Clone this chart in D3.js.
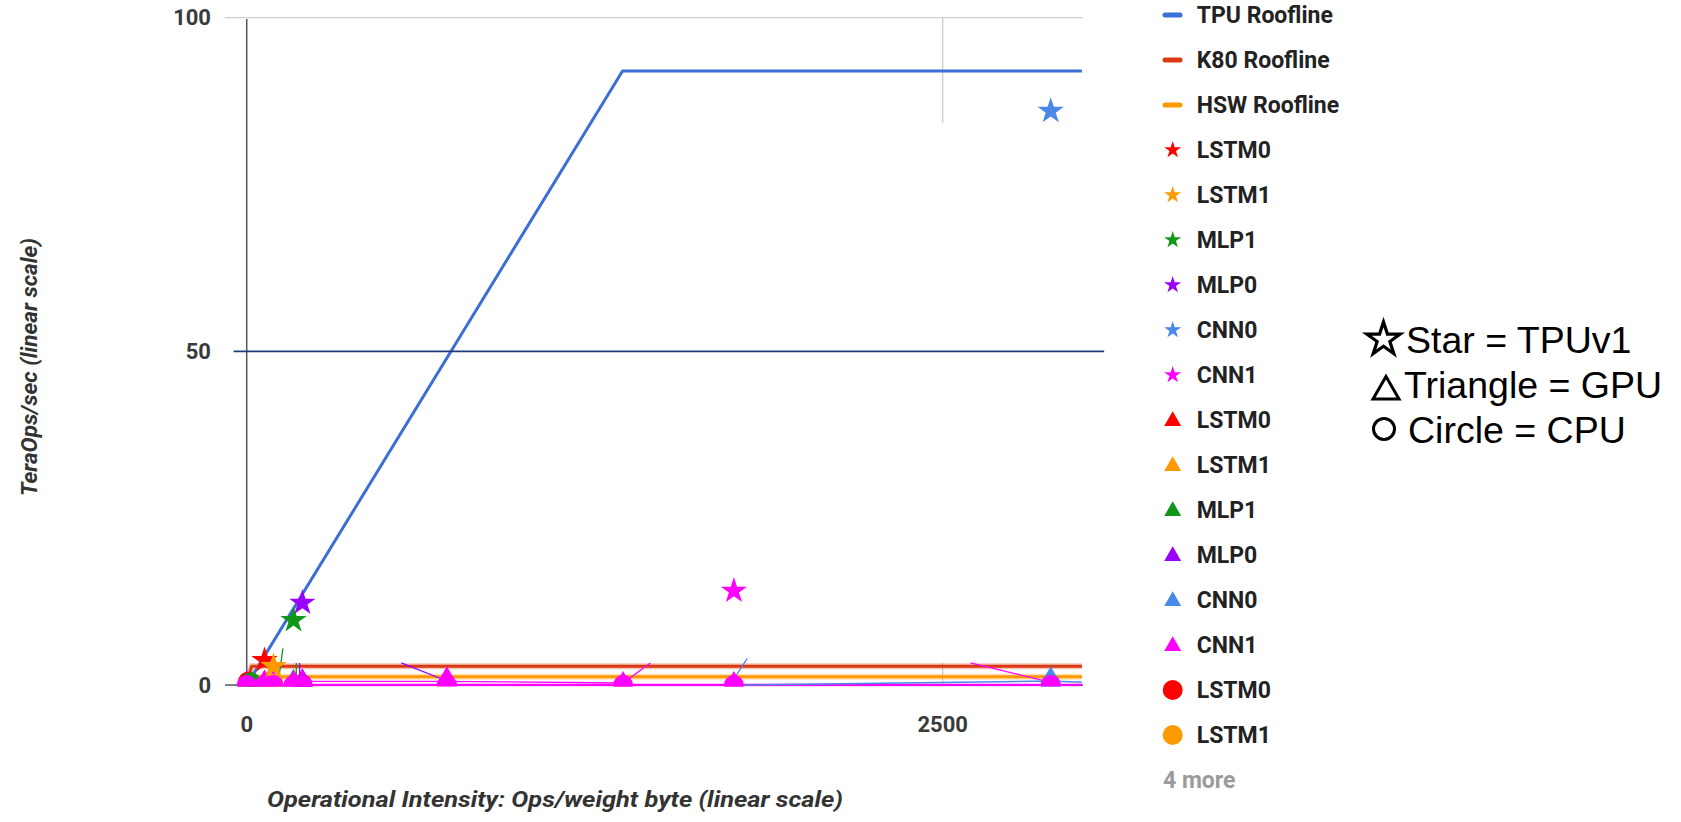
<!DOCTYPE html>
<html><head><meta charset="utf-8">
<script src="https://cdn.jsdelivr.net/npm/d3@7"></script>
<style>body{margin:0;background:#fff}svg{display:block}</style>
</head><body>
<svg id="c" width="1681" height="822"></svg>
<script>
// ---------------- data ----------------
const yTicks = [0, 50, 100];
const xTicks = [0, 2500];
const xDomain = [-78, 3004];
const yDomain = [0, 100];

const rooflineNames = ["TPU Roofline", "K80 Roofline", "HSW Roofline"];
const rooflineColors = ["#3a6fd8", "#dc3912", "#ff9900"];
const tpuRoof = [[0, 0], [1350, 92], [3000, 92]];
const k80Roof = [[0, 0], [17.5, 2.8], [3000, 2.8]];
const hswRoof = [[0, 0], [25, 1.25], [3000, 1.25]];

const apps = ["LSTM0", "LSTM1", "MLP1", "MLP0", "CNN0", "CNN1"];
const appColors = ["#ff0000", "#ff9900", "#109618", "#9900ff", "#4a89e8", "#ff00ff"];

// TPUv1 (stars): [ops/weight byte, TeraOps/sec]
const tpuStars = [[64, 3.7], [96, 2.8], [168, 9.7], [200, 12.3], [2888, 86.0], [1750, 14.1]];
// GPU K80 (triangles)
const gpuTriangles = [
  [[64, 0.4]],
  [[96, 0.3]],
  [[168, 0.5]],
  [[200, 0.6]],
  [[2888, 0.9]],
  [[0, 0.4], [64, 0.4], [96, 0.3], [168, 0.4], [200, 0.5], [719, 0.9], [1352, 0.2], [1750, 0.2]]
];
// CPU Haswell (circles)
const cpuCircles = [
  [[5, 0.5]],
  [[96, 0.2]],
  [[15, 0.4]],
  [[200, 0.1]],
  [[2888, 0.1]],
  [[0, 0], [64, 0], [96, 0], [168, 0], [200, 0], [719, 0], [1352, 0], [1750, 0], [2888, 0]]
];
// thin connecting line pieces visible near the baseline (series index, points)
const connectorSeries = [5, 5, 5, 5, 4, 4, 3, 3, 2, 2];
const connectorPoints = [
  [[0, 0], [3000, 0]],
  [[200, 0.55], [719, 0.55], [1352, 0.3]],
  [[1352, 0.3], [1450, 3.3]],
  [[2600, 3.3], [2888, 0.4]],
  [[1745, 0.6], [1798, 4.0]],
  [[1760, 0], [2888, 0.6], [3000, 0.4]],
  [[555, 3.3], [719, 0.6]],
  [[190, 0], [190, 3.3]],
  [[112, 0], [130, 5.5]],
  [[178, 0], [178, 3.3]]
];
const connectorWidths = [2.5, 1.3, 1.3, 1.3, 1.3, 1.5, 1.3, 1.3, 1.3, 1.3];

// visible pieces of the 2500 vertical gridline (y ranges)
const grid2500Pieces = [[84.2, 100], [0, 3.3]];
const fiftyLineExtent = [-47, 3080];

const legendMore = "4 more";
const keyLabels = ["Star = TPUv1", "Triangle = GPU", "Circle = CPU"];
const yTitle = "TeraOps/sec (linear scale)";
const xTitle = "Operational Intensity: Ops/weight byte (linear scale)";

// ---------------- drawing ----------------
const svg = d3.select("#c");
const x = d3.scaleLinear().domain(xDomain).range([225, 1083]);
const y = d3.scaleLinear().domain(yDomain).range([685, 17.7]);
const line = d3.line().x(d => x(d[0])).y(d => y(d[1]));

svg.append("defs").append("clipPath").attr("id", "plotclip")
  .append("rect").attr("x", 215).attr("y", 0).attr("width", 880).attr("height", 686.5);

// gridlines
svg.append("line").attr("x1", x(xDomain[0])).attr("x2", x(xDomain[1]))
  .attr("y1", y(100)).attr("y2", y(100)).attr("stroke", "#cfcfcf").attr("stroke-width", 1.3);
grid2500Pieces.forEach(p => {
  svg.append("line").attr("x1", x(2500)).attr("x2", x(2500))
    .attr("y1", y(p[0])).attr("y2", y(p[1])).attr("stroke", "#cccccc").attr("stroke-width", 1.3);
});
// baseline and axis
svg.append("line").attr("x1", x(xDomain[0])).attr("x2", x(xDomain[1]))
  .attr("y1", y(0)).attr("y2", y(0)).attr("stroke", "#555").attr("stroke-width", 1.5);
svg.append("line").attr("x1", x(0)).attr("x2", x(0))
  .attr("y1", y(99.8)).attr("y2", y(0)).attr("stroke", "#555").attr("stroke-width", 1.5);

// tick labels
svg.append("g").selectAll("text").data(yTicks).join("text")
  .attr("x", 211).attr("y", d => y(d)).attr("dy", "0.35em")
  .attr("text-anchor", "end")
  .style("font-family", "Roboto").style("font-weight", 700).style("font-size", "22px")
  .attr("fill", "#3a3a3a").text(d => d);
svg.append("g").selectAll("text").data(xTicks).join("text")
  .attr("x", d => x(d)).attr("y", 731.5)
  .attr("text-anchor", "middle")
  .style("font-family", "Roboto").style("font-weight", 700).style("font-size", "22px")
  .attr("fill", "#3a3a3a").text(d => d);

// axis titles
svg.append("text").attr("transform", "translate(29,367) rotate(-90)")
  .attr("text-anchor", "middle").attr("dy", "0.35em")
  .attr("textLength", 258).attr("lengthAdjust", "spacingAndGlyphs")
  .style("font-family", "Roboto").style("font-weight", 700).style("font-style", "italic")
  .style("font-size", "22px").attr("fill", "#333").text(yTitle);
svg.append("text").attr("x", 555).attr("y", 807)
  .attr("text-anchor", "middle")
  .attr("textLength", 576).attr("lengthAdjust", "spacingAndGlyphs")
  .style("font-family", "Roboto").style("font-weight", 700).style("font-style", "italic")
  .style("font-size", "22px").attr("fill", "#333").text(xTitle);

// rooflines
const plot = svg.append("g").attr("clip-path", "url(#plotclip)");
const roofs = [tpuRoof, k80Roof, hswRoof];
[k80Roof, hswRoof].forEach((r, i) => {
  plot.append("path").attr("d", line(r)).attr("fill", "none")
    .attr("stroke", rooflineColors[i + 1]).attr("stroke-opacity", 0.3).attr("stroke-width", 6);
});
roofs.forEach((r, i) => {
  plot.append("path").attr("d", line(r)).attr("fill", "none")
    .attr("stroke", rooflineColors[i]).attr("stroke-width", 3).attr("stroke-linejoin", "round");
});

// connectors
connectorPoints.forEach((pts, i) => {
  plot.append("path").attr("d", line(pts)).attr("fill", "none")
    .attr("stroke", appColors[connectorSeries[i]]).attr("stroke-width", connectorWidths[i]);
});

// triangles (GPU)
const triSym = d3.symbol().type(d3.symbolTriangle).size(209);
gpuTriangles.forEach((pts, i) => {
  plot.append("g").selectAll("path").data(pts).join("path")
    .attr("transform", d => `translate(${x(d[0])},${y(d[1])})`)
    .attr("d", triSym).attr("fill", appColors[i]);
});
// circles (CPU)
cpuCircles.forEach((pts, i) => {
  plot.append("g").selectAll("circle").data(pts).join("circle")
    .attr("cx", d => x(d[0])).attr("cy", d => y(d[1])).attr("r", 10)
    .attr("fill", appColors[i]);
});
// stars (TPU)
const starSym = d3.symbol().type(d3.symbolStar).size(215);
svg.append("g").selectAll("path").data(tpuStars).join("path")
  .attr("transform", d => `translate(${x(d[0])},${y(d[1])})`)
  .attr("d", starSym).attr("fill", (d, i) => appColors[i]);

// 50 reference line
svg.append("line").attr("x1", x(fiftyLineExtent[0])).attr("x2", x(fiftyLineExtent[1]))
  .attr("y1", y(50)).attr("y2", y(50)).attr("stroke", "#1f3d7a").attr("stroke-width", 1.6);

// legend
const legendItems = [];
rooflineNames.forEach((n, i) => legendItems.push({label: n, kind: "line", color: rooflineColors[i]}));
apps.forEach((n, i) => legendItems.push({label: n, kind: "star", color: appColors[i]}));
apps.forEach((n, i) => legendItems.push({label: n, kind: "tri", color: appColors[i]}));
apps.slice(0, 2).forEach((n, i) => legendItems.push({label: n, kind: "circ", color: appColors[i]}));
const lg = svg.append("g");
const legStar = d3.symbol().type(d3.symbolStar).size(90);
const legTri = d3.symbol().type(d3.symbolTriangle).size(125);
legendItems.forEach((it, i) => {
  const cy = 15 + i * 45, cx = 1172.7;
  if (it.kind === "line") {
    lg.append("line").attr("x1", 1165).attr("x2", 1180).attr("y1", cy).attr("y2", cy)
      .attr("stroke", it.color).attr("stroke-width", 5).attr("stroke-linecap", "round");
  } else if (it.kind === "star") {
    lg.append("path").attr("transform", `translate(${cx},${cy})`).attr("d", legStar).attr("fill", it.color);
  } else if (it.kind === "tri") {
    lg.append("path").attr("transform", `translate(${cx},${cy + 1})`).attr("d", legTri).attr("fill", it.color);
  } else {
    lg.append("circle").attr("cx", cx).attr("cy", cy).attr("r", 10).attr("fill", it.color);
  }
  lg.append("text").attr("x", 1196.7).attr("y", cy).attr("dy", "0.35em")
    .style("font-family", "Roboto").style("font-weight", 700).style("font-size", "23px")
    .attr("fill", "#222").text(it.label);
});
lg.append("text").attr("x", 1163).attr("y", 15 + legendItems.length * 45).attr("dy", "0.35em")
  .style("font-family", "Roboto").style("font-weight", 700).style("font-size", "23px")
  .attr("fill", "#9a9a9a").text(legendMore);

// shape key annotation
const key = svg.append("g");
const keyBaselines = [353, 398, 443];
const keyX = [1406, 1404, 1408];
key.append("path").attr("transform", "translate(1383.5,339.5)")
  .attr("d", d3.symbol().type(d3.symbolStar).size(345))
  .attr("fill", "#fff").attr("stroke", "#000").attr("stroke-width", 3.2).attr("stroke-linejoin", "miter");
key.append("path").attr("transform", "translate(1386,391.5)")
  .attr("d", d3.symbol().type(d3.symbolTriangle).size(292))
  .attr("fill", "#fff").attr("stroke", "#000").attr("stroke-width", 3).attr("stroke-linejoin", "miter");
key.append("circle").attr("cx", 1384).attr("cy", 429).attr("r", 10.5)
  .attr("fill", "#fff").attr("stroke", "#000").attr("stroke-width", 3);
keyLabels.forEach((t, i) => {
  key.append("text").attr("x", keyX[i]).attr("y", keyBaselines[i])
    .style("font-family", "'Liberation Sans', Arial, sans-serif").style("font-size", "37.5px")
    .attr("fill", "#000").text(t);
});
</script>
</body></html>
